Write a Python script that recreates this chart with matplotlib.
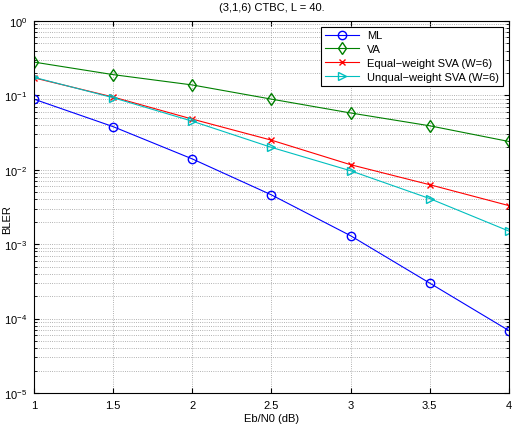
import numpy as np
import matplotlib
matplotlib.use("Agg")
import matplotlib.pyplot as plt
from matplotlib.ticker import LogLocator, NullFormatter

plt.rcParams['font.family'] = ['Liberation Sans', 'DejaVu Sans']
plt.rcParams['font.size'] = 8

ebn0 = [1, 1.5, 2, 2.5, 3, 3.5, 4]
xtick_labels = ['1', '1.5', '2', '2.5', '3', '3.5', '4']
bler_ml = [0.089, 0.038, 0.014, 0.0046, 0.0013, 0.0003, 6.9e-5]
bler_va = [0.28, 0.19, 0.138, 0.089, 0.058, 0.039, 0.024]
bler_eq = [0.172, 0.095, 0.048, 0.025, 0.0117, 0.0063, 0.0033]
bler_uneq = [0.175, 0.093, 0.045, 0.020, 0.0097, 0.0041, 0.0015]

fig = plt.figure(figsize=(5.14, 4.39), dpi=100)
ax = fig.add_axes([0.066, 0.1025, 0.924, 0.8475])

ax.semilogy(ebn0, bler_ml, '-o', color=(0, 0, 1), lw=0.8, ms=6, mfc='none', label='ML')
ax.semilogy(ebn0, bler_va, '-d', color=(0, 0.5, 0), lw=0.8, ms=6, mfc='none', label='VA')
ax.semilogy(ebn0, bler_eq, '-x', color=(1, 0, 0), lw=0.8, ms=5, mfc='none', label='Equal\u2212weight SVA (W=6)')
ax.semilogy(ebn0, bler_uneq, '->', color=(0, 0.75, 0.75), lw=0.8, ms=6, mfc='none', label='Unqual\u2212weight SVA (W=6)')

ax.set_xlim(1, 4)
ax.set_ylim(1e-5, 1)
ax.set_xticks(ebn0)
ax.set_xticklabels(xtick_labels)
ax.yaxis.set_major_locator(LogLocator(base=10, numticks=10))
ax.yaxis.set_minor_locator(LogLocator(base=10, subs=np.arange(2, 10), numticks=10))
ax.yaxis.set_minor_formatter(NullFormatter())

ax.grid(True, which='major', linestyle=':', color='#999999', lw=0.6)
ax.grid(True, which='minor', axis='y', linestyle=':', color='#999999', lw=0.6)
ax.tick_params(which='both', direction='in', top=True, right=True)
ax.tick_params(axis='both', pad=5)
for s in ax.spines.values():
    s.set_linewidth(0.8)

ax.set_title('(3,1,6) CTBC, L = 40.', fontsize=8, pad=8)
ax.set_xlabel('Eb/N0 (dB)', labelpad=2)
ax.set_ylabel('BLER')
# keep the label just inside the left edge
ax.yaxis.set_label_coords(12 / 514, 0.5, transform=fig.transFigure)

leg = ax.legend(loc='upper right', fancybox=False, edgecolor='black', framealpha=1,
                borderaxespad=0.5, handlelength=3, labelspacing=0.35, borderpad=0.35)
leg.get_frame().set_linewidth(0.8)

fig.savefig('out.png', dpi=100)
